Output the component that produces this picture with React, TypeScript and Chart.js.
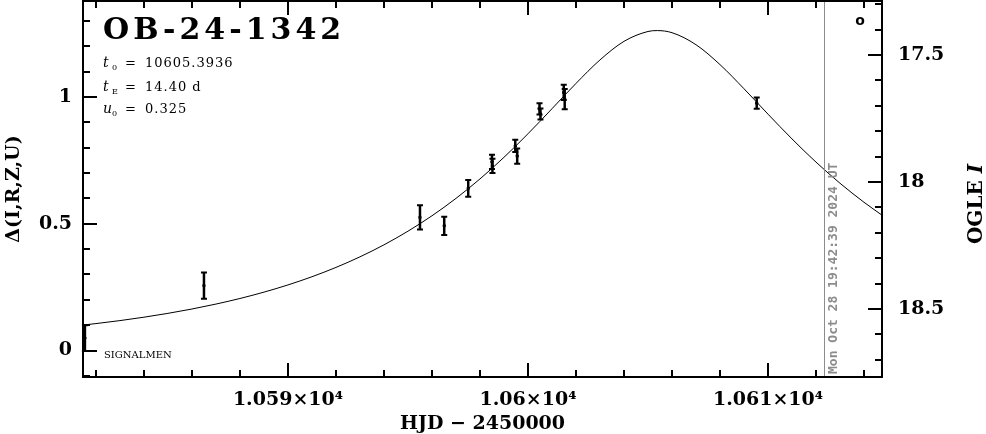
import React, { useEffect, useRef } from "react";
import { Chart, registerables } from "chart.js";

Chart.register(...registerables);

// ---- data ----
const eventName = "OB-24-1342";
const paramT0 = "10605.3936";
const paramTE = "14.40";
const paramU0 = "0.325";

// model light curve (HJD-2450000, Δ mag)
const modelT = [
  10581.46, 10582, 10583, 10584, 10585, 10586, 10587, 10588, 10589, 10590,
  10591, 10592, 10593, 10594, 10595, 10596, 10597, 10598, 10599, 10600,
  10601, 10602, 10603, 10604, 10605, 10605.39, 10606, 10607, 10608, 10609,
  10610, 10611, 10612, 10613, 10614, 10614.75,
];
const modelDelta = [
  0.1004, 0.1062, 0.118, 0.1314, 0.1466, 0.1637, 0.1832, 0.2052, 0.2303, 0.2587,
  0.291, 0.3278, 0.3695, 0.4169, 0.4707, 0.5315, 0.6001, 0.6769, 0.7621, 0.855,
  0.9537, 1.0536, 1.1463, 1.2195, 1.2585, 1.262, 1.2537, 1.2063, 1.1278, 1.0326,
  0.9324, 0.8347, 0.7432, 0.6598, 0.5848, 0.5339,
];

// OGLE I data points
const ogleT = [
  10586.5, 10595.5, 10596.51, 10597.51, 10598.5, 10598.52, 10599.47, 10599.55,
  10600.48, 10600.52, 10601.49, 10601.53, 10609.53,
];
const ogleDelta = [
  0.256, 0.525, 0.492, 0.64, 0.744, 0.728, 0.807, 0.767, 0.953, 0.933, 1.018,
  0.992, 0.976,
];
const ogleErr = [
  0.052, 0.048, 0.036, 0.033, 0.028, 0.028, 0.024, 0.03, 0.022, 0.022, 0.03,
  0.04, 0.022,
];

// SIGNALMEN point
const smT = [10581.54];
const smDelta = [0.049];
const smErr = [0.051];

const xMin = 10581.46;
const xMax = 10614.75;
const yMin = -0.1045;
const yMax = 1.3787;
const magMin = 17.2874;
const magMax = 18.7677;

const nowT = 10612.32;
const nowLabel = "Mon Oct 28 19:42:39 2024 UT";

const SERIF = "'DejaVu Serif', serif";

const noPad = (s: any) => {
  s.paddingTop = 0;
  s.paddingBottom = 0;
  s.paddingLeft = 0;
  s.paddingRight = 0;
};

const errPlugin = {
  id: "errbars",
  afterDatasetsDraw(chart: any) {
    const { ctx } = chart;
    const xs = chart.scales.x;
    const ys = chart.scales.y;
    const sets = [
      { t: ogleT, d: ogleDelta, e: ogleErr },
      { t: smT, d: smDelta, e: smErr },
    ];
    ctx.save();
    ctx.strokeStyle = "#000";
    ctx.lineCap = "butt";
    for (const s of sets) {
      for (let i = 0; i < s.t.length; i++) {
        const px = xs.getPixelForValue(s.t[i]);
        const y1 = ys.getPixelForValue(s.d[i] - s.e[i]);
        const y2 = ys.getPixelForValue(s.d[i] + s.e[i]);
        ctx.lineWidth = 2.5;
        ctx.beginPath();
        ctx.moveTo(px, y1);
        ctx.lineTo(px, y2);
        ctx.stroke();
        ctx.lineWidth = 2;
        ctx.beginPath();
        ctx.moveTo(px - 3, y1);
        ctx.lineTo(px + 3, y1);
        ctx.moveTo(px - 3, y2);
        ctx.lineTo(px + 3, y2);
        ctx.stroke();
      }
    }
    ctx.restore();
  },
};

const framePlugin = {
  id: "frameTicks",
  afterDraw(chart: any) {
    const { ctx, chartArea: a } = chart;
    const xs = chart.scales.x;
    const ys = chart.scales.y;
    const ms = chart.scales.y2;
    ctx.save();

    // "now" line
    const nx = Math.round(xs.getPixelForValue(nowT)) + 0.5;
    ctx.strokeStyle = "#8c8c8c";
    ctx.lineWidth = 1;
    ctx.beginPath();
    ctx.moveTo(nx, a.top);
    ctx.lineTo(nx, a.bottom);
    ctx.stroke();
    ctx.save();
    ctx.translate(nx + 12, a.bottom - 3);
    ctx.rotate(-Math.PI / 2);
    ctx.fillStyle = "#8c8c8c";
    ctx.font = "bold 13px 'DejaVu Sans Mono', monospace";
    ctx.textAlign = "left";
    ctx.textBaseline = "alphabetic";
    ctx.fillText(nowLabel, 0, 0);
    ctx.restore();

    // frame
    ctx.strokeStyle = "#000";
    ctx.lineWidth = 2;
    ctx.strokeRect(a.left, a.top, a.right - a.left, a.bottom - a.top);

    const seg = (x1: number, y1: number, x2: number, y2: number) => {
      ctx.beginPath();
      ctx.moveTo(x1, y1);
      ctx.lineTo(x2, y2);
      ctx.stroke();
    };
    for (let d = 10582; d <= 10614; d += 2) {
      const px = Math.round(xs.getPixelForValue(d));
      const len = d % 10 === 0 ? 14 : 7;
      seg(px, a.bottom, px, a.bottom - len);
      seg(px, a.top, px, a.top + len);
    }
    for (let k = -1; k <= 13; k++) {
      const py = Math.round(ys.getPixelForValue(k / 10));
      const len = k % 5 === 0 ? 14 : 7;
      seg(a.left, py, a.left + len, py);
    }
    for (let k = 173; k <= 187; k++) {
      const py = Math.round(ms.getPixelForValue(k / 10));
      const len = k % 5 === 0 ? 14 : 7;
      seg(a.right, py, a.right - len, py);
    }

    // title
    ctx.fillStyle = "#000";
    ctx.textAlign = "left";
    ctx.textBaseline = "alphabetic";
    ctx.font = `bold 30px ${SERIF}`;
    (ctx as any).letterSpacing = "4px";
    ctx.fillText(eventName, 103, 39);
    (ctx as any).letterSpacing = "0px";

    // parameters
    const param = (sym: string, sub: string, val: string, base: number) => {
      ctx.font = `italic 14px ${SERIF}`;
      ctx.fillText(sym, 103, base);
      ctx.font = `8px ${SERIF}`;
      ctx.fillText(sub, 112, base + 3);
      ctx.font = `13px ${SERIF}`;
      ctx.fillText("=", 125, base);
      (ctx as any).letterSpacing = "1px";
      ctx.fillText(val, 145, base);
      (ctx as any).letterSpacing = "0px";
    };
    param("t", "0", paramT0, 67);
    param("t", "E", paramTE + " d", 91);
    param("u", "0", paramU0, 113);

    // SIGNALMEN label
    ctx.font = `10px ${SERIF}`;
    ctx.fillText("SIGNALMEN", 104, 358);

    // small legend symbol
    ctx.font = "bold 14px 'DejaVu Sans', sans-serif";
    ctx.textAlign = "center";
    ctx.textBaseline = "middle";
    ctx.fillText("o", 860, 21);

    // right axis title
    ctx.save();
    ctx.translate(977, 204);
    ctx.rotate(-Math.PI / 2);
    ctx.font = `bold 20px ${SERIF}`;
    const w1 = ctx.measureText("OGLE ").width;
    ctx.font = `bold italic 20px ${SERIF}`;
    const w2 = ctx.measureText("I").width;
    const start = -(w1 + w2) / 2;
    ctx.textAlign = "left";
    ctx.textBaseline = "middle";
    ctx.font = `bold 20px ${SERIF}`;
    ctx.fillText("OGLE ", start, 0);
    ctx.font = `bold italic 20px ${SERIF}`;
    ctx.fillText("I", start + w1, 0);
    ctx.restore();

    ctx.restore();
  },
};

export default function App() {
  const ref = useRef<HTMLCanvasElement | null>(null);

  useEffect(() => {
    if (!ref.current) return;
    const tickFont = { family: SERIF, size: 19, weight: "bold" as const };
    const chart = new Chart(ref.current, {
      type: "scatter",
      data: {
        datasets: [
          {
            type: "line",
            label: "model",
            data: modelT.map((t, i) => ({ x: t, y: modelDelta[i] })),
            borderColor: "#000",
            borderWidth: 1,
            pointRadius: 0,
            cubicInterpolationMode: "monotone",
            fill: false,
            xAxisID: "x",
            yAxisID: "y",
          } as any,
          {
            label: "OGLE",
            data: ogleT.map((t, i) => ({ x: t, y: ogleDelta[i] })),
            pointStyle: "rect",
            pointRadius: 1.5,
            backgroundColor: "#000",
            borderColor: "#000",
            xAxisID: "x",
            yAxisID: "y",
          },
          {
            label: "SIGNALMEN",
            data: smT.map((t, i) => ({ x: t, y: smDelta[i] })),
            pointStyle: "rect",
            pointRadius: 1.5,
            backgroundColor: "#000",
            borderColor: "#000",
            xAxisID: "x",
            yAxisID: "y",
          },
        ],
      },
      options: {
        animation: false,
        responsive: false,
        maintainAspectRatio: false,
        layout: { autoPadding: false, padding: { top: 1, left: 0, right: 0, bottom: 0 } },
        plugins: { legend: { display: false }, tooltip: { enabled: false } },
        scales: {
          x: {
            type: "linear",
            position: "bottom",
            min: xMin,
            max: xMax,
            grid: { display: false, drawTicks: false },
            border: { display: false },
            ticks: {
              stepSize: 10,
              includeBounds: false,
              autoSkip: false,
              maxRotation: 0,
              padding: 12,
              color: "#000",
              font: tickFont,
              callback: (v: any) => `${Number((Number(v) / 1e4).toPrecision(5))}×10⁴`,
            },
            title: {
              display: true,
              text: "HJD − 2450000",
              color: "#000",
              font: { family: SERIF, size: 19, weight: "bold", lineHeight: 1 },
              padding: 0,
            },
            afterFit: (s: any) => {
              s.height = 57;
              noPad(s);
            },
          },
          y: {
            type: "linear",
            position: "left",
            min: yMin,
            max: yMax,
            grid: { display: false, drawTicks: false },
            border: { display: false },
            ticks: {
              stepSize: 0.5,
              includeBounds: false,
              padding: 11,
              color: "#000",
              font: tickFont,
              callback: (v: any) => `${Number(v)}`,
            },
            title: {
              display: true,
              text: "Δ(I,R,Z,U)",
              color: "#000",
              font: { family: SERIF, size: 19, weight: "bold", lineHeight: 1.2 },
              padding: { top: 3, bottom: 0 },
            },
            afterFit: (s: any) => {
              s.width = 83;
              noPad(s);
            },
          },
          y2: {
            type: "linear",
            position: "right",
            reverse: true,
            min: magMin,
            max: magMax,
            grid: { display: false, drawTicks: false },
            border: { display: false },
            ticks: {
              stepSize: 0.5,
              includeBounds: false,
              padding: 16,
              color: "#000",
              font: tickFont,
              callback: (v: any) => `${Number(v)}`,
            },
            afterFit: (s: any) => {
              s.width = 104;
              noPad(s);
            },
          },
        },
      } as any,
      plugins: [errPlugin, framePlugin],
    });
    return () => chart.destroy();
  }, []);

  return (
    <div
      style={{
        position: "fixed",
        left: 0,
        top: 0,
        width: 986,
        height: 434,
        background: "#fff",
      }}
    >
      <canvas ref={ref} width={986} height={434} style={{ display: "block" }} />
    </div>
  );
}
